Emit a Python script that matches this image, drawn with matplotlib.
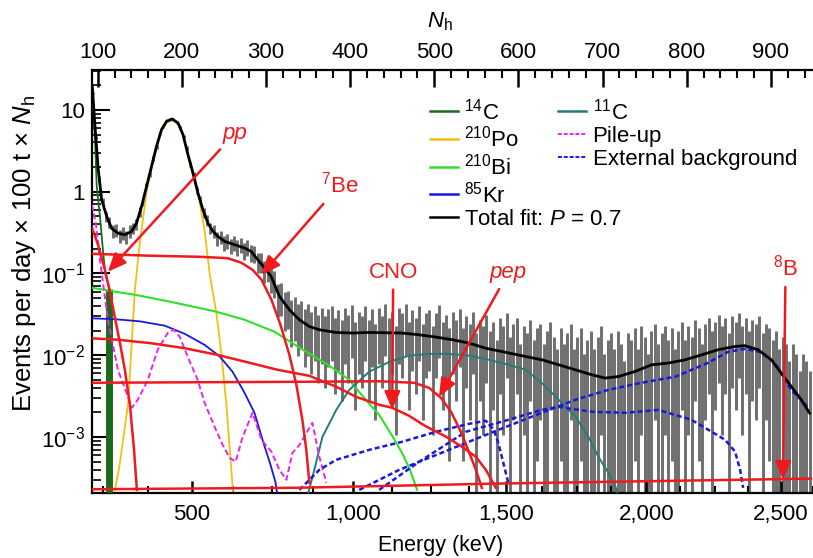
import numpy as np
import matplotlib
matplotlib.use('Agg')
import matplotlib.pyplot as plt
from matplotlib.lines import Line2D
from matplotlib.ticker import LogLocator, MultipleLocator, NullFormatter

plt.rcParams['font.family'] = ['Liberation Sans', 'DejaVu Sans']
plt.rcParams['mathtext.fontset'] = 'custom'
plt.rcParams['mathtext.rm'] = 'Liberation Sans'
plt.rcParams['mathtext.it'] = 'Liberation Sans:italic'
plt.rcParams['mathtext.bf'] = 'Liberation Sans:bold'

# energy scale: visible energy (keV) -> number of hit PMTs
energy_cal = [250, 375, 500, 625, 750, 875, 1000, 1125, 1250, 1375, 1500,
              1625, 1750, 1875, 2000, 2125, 2250, 2375, 2500, 2625]
nh_cal = [106.3, 159.6, 211.7, 260.3, 307.7, 356.3, 403.7, 450.2, 496.1,
          541.1, 585.0, 627.6, 669.0, 710.5, 752.0, 792.3, 833.8, 872.9,
          911.9, 950.0]
energy_major = [500, 1000, 1500, 2000, 2500]
energy_labels = ['500', '1,000', '1,500', '2,000', '2,500']
nh_major = [100, 200, 300, 400, 500, 600, 700, 800, 900]
ytick_values = [1e-3, 1e-2, 1e-1, 1, 10]
ytick_labels = ['10$^{-3}$', '10$^{-2}$', '10$^{-1}$', '1', '10']

# measured spectrum, 4-Nh bins starting at Nh = 94
data_rate = [
    16, 4.6, 1.45, 0.75, 0.5, 0.43, 0.33, 0.34, 0.29, 0.31,
    0.28, 0.33, 0.36, 0.40, 0.57, 0.76, 1.18, 1.66, 2.55, 3.5,
    5.1, 6.2, 7.4, 7.6, 7.8, 7.0, 6.2, 4.7, 3.4, 2.15,
    1.6, 1.05, 0.80, 0.55, 0.45, 0.36, 0.33, 0.27, 0.28, 0.24,
    0.25, 0.22, 0.24, 0.21, 0.225, 0.19, 0.21, 0.18, 0.175, 0.14,
    0.14, 0.11, 0.112, 0.088, 0.078, 0.052, 0.053, 0.040, 0.041, 0.030,
    0.033, 0.026, 0.029, 0.022, 0.026, 0.020, 0.024, 0.018, 0.023, 0.017,
    0.022, 0.024, 0.016, 0.021, 0.015, 0.023, 0.018, 0.025, 0.014, 0.020,
    0.017, 0.024, 0.015, 0.022, 0.013, 0.023, 0.017, 0.026, 0.016, 0.020,
    0.012, 0.023, 0.019, 0.026, 0.014, 0.021, 0.016, 0.024, 0.013, 0.019,
    0.021, 0.012, 0.019, 0.025, 0.014, 0.018, 0.011, 0.020, 0.015, 0.022,
    0.011, 0.017, 0.013, 0.020, 0.009, 0.015, 0.012, 0.018, 0.010, 0.014,
    0.007, 0.016, 0.012, 0.019, 0.008, 0.013, 0.016, 0.006, 0.012, 0.009,
    0.015, 0.007, 0.011, 0.013, 0.006, 0.010, 0.014, 0.008, 0.005, 0.011,
    0.006, 0.009, 0.013, 0.005, 0.008, 0.011, 0.004, 0.007, 0.010, 0.005,
    0.008, 0.012, 0.004, 0.007, 0.009, 0.005, 0.010, 0.006, 0.003, 0.009,
    0.007, 0.011, 0.005, 0.012, 0.008, 0.004, 0.010, 0.013, 0.006, 0.009,
    0.012, 0.007, 0.011, 0.005, 0.010, 0.014, 0.007, 0.012, 0.008, 0.015,
    0.011, 0.006, 0.013, 0.016, 0.010, 0.014, 0.018, 0.012, 0.016, 0.009,
    0.017, 0.014, 0.019, 0.012, 0.016, 0.010, 0.015, 0.013, 0.017, 0.009,
    0.013, 0.011, 0.007, 0.010, 0.005, 0.008, 0.006, 0.003, 0.006, 0.004,
    0.002, 0.004, 0.003, 0.002,
]
exposure = 100.0  # counts per unit rate in one bin

fit_nh = [93.6, 96.8, 100.7, 104.7, 110.7, 116.6, 124.4, 132.3, 140.3, 146.2,
          152.1, 158.1, 164.0, 169.9, 175.8, 181.8, 188.4, 195.5, 201.4, 207.3,
          213.3, 219.2, 225.1, 231.0, 237.0, 242.9, 250.8, 262.7, 274.5, 282.5,
          290.3, 298.2, 306.2, 316.0, 327.8, 339.7, 351.5, 363.4, 383.2, 402.5,
          422.6, 461.7, 481.9, 501.7, 521.3, 541.1, 560.9, 580.6, 608.3, 628.0,
          647.7, 667.5, 687.2, 703.1, 718.8, 738.6, 758.3, 778.1, 797.9, 817.5,
          837.3, 857.1, 869.0, 884.7, 900.5, 912.3, 924.2, 936.0, 946.0]
fit_rate = [19.4, 6.3, 1.86, 0.80, 0.50, 0.356, 0.31, 0.298, 0.327, 0.414,
            0.66, 1.16, 2.04, 3.58, 5.73, 7.24, 7.75, 6.92, 4.98, 2.84,
            1.69, 0.96, 0.60, 0.414, 0.327, 0.284, 0.247, 0.225, 0.205, 0.186,
            0.147, 0.117, 0.092, 0.0524, 0.036, 0.0272, 0.0225, 0.0205, 0.019, 0.0187,
            0.019, 0.0187, 0.0178, 0.0167, 0.0155, 0.0141, 0.0122, 0.0111, 0.00966, 0.0088,
            0.00765, 0.00665, 0.00577, 0.00526, 0.0055, 0.00634, 0.00765, 0.00803, 0.0088, 0.0101,
            0.0117, 0.0128, 0.0131, 0.0117, 0.0088, 0.00605, 0.00415, 0.00286, 0.00196]

c14_nh = [93.2, 96.8, 98.8, 102.7, 106.5, 109.0, 114.0, 114.0]
c14_rate = [20, 4.5, 1.2, 0.5, 0.18, 0.1, 0.065, 1.5e-4]

po_nh = [120.5, 126.4, 136.2, 144.2, 150.1, 158.1, 164.0, 169.9, 175.8, 181.8,
         188.4, 195.5, 201.4, 207.3, 215.3, 221.2, 227.1, 233.0, 241.0, 246.9,
         252.8, 260.7]
po_rate = [2.2e-4, 4.8e-4, 2.6e-3, 0.063, 0.24, 1.0, 1.95, 3.45, 5.5, 7.0,
           7.55, 6.75, 4.85, 2.75, 1.3, 0.75, 0.33, 0.10, 0.033, 0.0107,
           2.6e-3, 2.2e-4]

bi_nh = [93.2, 116.9, 144.2, 183.3, 239.0, 274.5, 310.1, 339.7, 375.2, 398.9,
         416.7, 434.4, 449.9, 461.7, 471.2, 479.5]
bi_rate = [0.067, 0.0607, 0.055, 0.0458, 0.0345, 0.0272, 0.0194, 0.0124,
           0.00745, 0.0050, 0.0030, 0.00187, 0.00104, 6.4e-4, 3.97e-4, 2.26e-4]

kr_nh = [93.2, 120.5, 150.1, 179.7, 203.4, 227.1, 244.9, 260.3, 274.5, 286.3,
         297.0, 305.3, 311.3, 315.0]
kr_rate = [0.0283, 0.0276, 0.026, 0.023, 0.0183, 0.0134, 0.0097, 0.00628,
           0.00348, 0.00198, 8.5e-4, 4.6e-4, 2.8e-4, 1.5e-4]

c11_nh = [350.4, 357.5, 367.0, 383.5, 399.0, 422.7, 446.4, 470.0, 493.7, 517.4,
          541.1, 564.8, 588.5, 608.6, 627.6, 647.7, 667.9, 683.3, 695.1, 707.0,
          715.3, 717.7]
c11_rate = [2.1e-4, 4.0e-4, 1.0e-3, 2.15e-3, 3.78e-3, 6.3e-3, 8.3e-3, 9.9e-3,
            0.0104, 0.0104, 9.9e-3, 8.8e-3, 7.65e-3, 6.65e-3, 4.6e-3, 2.86e-3,
            1.77e-3, 1.0e-3, 5.7e-4, 3.65e-4, 2.46e-4, 2.08e-4]

pileup_nh = [93.2, 98.0, 102.7, 112.2, 124.0, 134.7, 140.6, 147.7, 159.6, 171.4,
             183.3, 190.4, 197.5, 207.0, 218.8, 227.1, 239.0, 247.3, 256.8, 263.9,
             272.2, 284.0, 294.7, 306.5, 316.0, 324.3, 331.4, 339.7, 355.1, 363.4,
             371.7]
pileup_rate = [0.693, 0.395, 0.147, 0.0272, 6.65e-3, 3.38e-3, 2.28e-3, 2.86e-3,
               5.0e-3, 0.0117, 0.0188, 0.0205, 0.0168, 9.6e-3, 5.0e-3, 2.62e-3,
               1.33e-3, 8.5e-4, 5.57e-4, 4.98e-4, 1.0e-3, 1.98e-3, 9.25e-4,
               6.6e-4, 3.97e-4, 3.0e-4, 6.4e-4, 8.0e-4, 1.49e-3, 5.73e-4, 2.76e-4]

k40_nh = [339.7, 363.4, 383.5, 422.7, 461.7, 502.0, 541.1, 561.3, 570.7, 576.7,
          582.6, 588.5]
k40_rate = [2.26e-4, 3.97e-4, 5.27e-4, 6.98e-4, 8.75e-4, 1.16e-3, 1.45e-3,
            1.58e-3, 1.23e-3, 8.0e-4, 4.57e-4, 2.6e-4]

bi214_nh = [434.5, 481.9, 537.5, 588.5, 627.6, 647.7, 686.8, 727.1, 766.2, 805.3,
            825.4, 845.6, 857.5, 863.4, 867.0]
bi214_rate = [2.26e-4, 4.98e-4, 1.16e-3, 1.63e-3, 2.15e-3, 2.34e-3, 2.04e-3,
              1.98e-3, 2.15e-3, 1.63e-3, 1.23e-3, 9.25e-4, 6.6e-4, 3.97e-4, 2.39e-4]

tl208_nh = [410.8, 458.2, 517.4, 576.7, 627.6, 667.9, 707.0, 746.1, 786.3, 825.4,
            849.1, 869.3, 887.0, 904.8, 923.8, 944.0]
tl208_rate = [2.26e-4, 3.97e-4, 6.98e-4, 1.23e-3, 1.98e-3, 2.86e-3, 3.78e-3,
              4.61e-3, 5.46e-3, 8.1e-3, 0.011, 0.012, 0.011, 8.1e-3, 3.78e-3, 2.34e-3]

pp_nh = [93.2, 100.4, 108.6, 114.5, 120.5, 126.4, 132.3, 138.3, 143.0, 146.6]
pp_rate = [0.363, 0.225, 0.111, 0.0598, 0.0288, 0.0142, 0.00665, 2.48e-3,
           7.4e-4, 2.26e-4]

be7_nh = [93.2, 162.0, 221.2, 254.4, 271.0, 284.0, 294.7, 306.5, 317.2, 327.8,
          336.1, 343.2, 347.9, 351.5]
be7_rate = [0.174, 0.165, 0.160, 0.154, 0.135, 0.111, 0.0839, 0.0477, 0.0236,
            0.0101, 4.36e-3, 1.63e-3, 7.0e-4, 2.76e-4]

pep_nh = [93.2, 221.2, 339.7, 434.5, 476.0, 493.7, 507.9, 519.8, 531.6, 541.1,
          549.4, 556.5]
pep_rate = [4.61e-3, 4.68e-3, 4.74e-3, 4.81e-3, 4.61e-3, 4.0e-3, 3.02e-3,
            2.04e-3, 1.16e-3, 6.6e-4, 3.97e-4, 2.39e-4]

cno_nh = [93.2, 124.0, 164.3, 203.4, 242.5, 282.8, 313.6, 351.5, 383.5, 407.2,
          434.5, 450.0, 470.0, 489.0, 513.9, 532.9, 549.4, 561.3, 573.2]
cno_rate = [0.0161, 0.0155, 0.014, 0.0122, 0.0101, 7.98e-3, 6.65e-3, 5.61e-3,
            4.12e-3, 3.1e-3, 2.48e-3, 2.28e-3, 1.82e-3, 1.37e-3, 1.01e-3,
            7.6e-4, 5.73e-4, 3.97e-4, 2.39e-4]

b8_nh = [93.2, 339.7, 576.7, 813.6, 947.5]
b8_rate = [2.3e-4, 2.4e-4, 2.7e-4, 2.95e-4, 3.1e-4]

RED = '#f01a1e'
BLUE = '#1818e0'
FONT = 16


def _style_axes(ax):
  ax.set_yscale('log')
  ax.set_xlim(92.9, 947.5)
  ax.set_ylim(2.07e-4, 30.8)

  ax.set_yticks(ytick_values)
  ax.set_yticklabels(ytick_labels)
  ax.yaxis.set_minor_locator(LogLocator(base=10, subs=np.arange(2, 10)))
  ax.yaxis.set_minor_formatter(NullFormatter())
  ax.tick_params(axis='y', which='major', direction='in', length=13,
                 width=1.5, labelsize=FONT, pad=5)
  ax.tick_params(axis='y', which='minor', direction='in', length=6.5,
                 width=1.2)

  # bottom axis in energy, drawn on the hit-PMT scale
  ax.set_xticks(np.interp(energy_major, energy_cal, nh_cal))
  ax.set_xticklabels(energy_labels)
  ax.set_xticks(np.interp(energy_cal, energy_cal, nh_cal), minor=True)
  ax.tick_params(axis='x', which='major', direction='in', length=9,
                 width=1.8, labelsize=FONT, pad=8)
  ax.tick_params(axis='x', which='minor', direction='in', length=5,
                 width=1.5)

  ax.spines['right'].set_visible(False)
  ax.spines['top'].set_visible(False)
  for side in ('left', 'bottom'):
    ax.spines[side].set_linewidth(1.6)

  top = ax.secondary_xaxis('top')
  top.set_xticks(nh_major)
  top.xaxis.set_minor_locator(MultipleLocator(20))
  top.tick_params(axis='x', which='major', direction='in', length=12,
                  width=1.8, labelsize=FONT, pad=5)
  top.tick_params(axis='x', which='minor', direction='in', length=6,
                  width=1.5)
  top.spines['top'].set_linewidth(1.6)

  ax.set_xlabel('Energy (keV)', fontsize=15.5)
  ax.xaxis.set_label_coords(0.484, -0.1)
  ax.set_ylabel('Events per day \u00d7 100 t \u00d7 $N_\\mathrm{h}$',
                fontsize=18.5)
  ax.yaxis.set_label_coords(-0.0745, 0.567)


def plot_spectrum(filename='out.png'):
  fig = plt.figure(figsize=(8.13, 5.58), dpi=100)
  ax = fig.add_axes([0.1128, 0.1165, 0.8872, 0.7581])
  _style_axes(ax)

  rate = np.asarray(data_rate)
  nh_bins = 94 + 4 * np.arange(len(rate))
  err = np.sqrt(rate * exposure) / exposure
  lo = np.clip(rate - err, 1e-4, None)
  ax.vlines(nh_bins, lo, rate + err, colors='#6e6e6e', lw=2.1, zorder=1)

  ax.plot(c14_nh[:-1], c14_rate[:-1], color='#1c6b1c', lw=1.3, zorder=3)
  ax.plot(c14_nh[-2:], c14_rate[-2:], color='#1c6b1c', lw=5, zorder=3,
          solid_capstyle='butt')
  ax.plot(po_nh, po_rate, color='#f2c012', lw=1.3, zorder=3)
  ax.plot(bi_nh, bi_rate, color='#2ee02a', lw=1.5, zorder=3)
  ax.plot(kr_nh, kr_rate, color=BLUE, lw=1.3, zorder=3)
  ax.plot(c11_nh, c11_rate, color='#237c78', lw=1.4, zorder=3)
  ax.plot(pileup_nh, pileup_rate, color='#ee22ee', lw=1.4,
          ls=(0, (3, 1.6)), zorder=3)
  for nh, r in ((k40_nh, k40_rate), (bi214_nh, bi214_rate),
                (tl208_nh, tl208_rate)):
    ax.plot(nh, r, color=BLUE, lw=1.8, ls=(0, (2, 1.2)), zorder=3)

  ax.plot(fit_nh, fit_rate, color='black', lw=2.0, zorder=4)

  for nh, r in ((pp_nh, pp_rate), (be7_nh, be7_rate), (pep_nh, pep_rate),
                (cno_nh, cno_rate), (b8_nh, b8_rate)):
    ax.plot(nh, r, color=RED, lw=1.8, zorder=5)

  # arrows from the solar-neutrino labels to their spectra
  notes = [
      ('pp', 'italic', (0.199, 0.851), (112, 0.105)),
      ('$^{7}$Be', 'normal', (0.344, 0.728), (294.7, 0.0966)),
      ('CNO', 'normal', (0.418, 0.522), (450, 2.15e-3)),
      ('pep', 'italic', (0.578, 0.522), (505.6, 3.1e-3)),
      ('$^{8}$B', 'normal', (0.962, 0.534), (914.3, 3.0e-4)),
  ]
  for text, style, xytext, xy in notes:
    ax.annotate(text, xy=xy, xycoords='data', xytext=xytext,
                textcoords='axes fraction', ha='center', va='center',
                color=RED, fontsize=FONT, fontstyle=style, zorder=6,
                arrowprops=dict(arrowstyle='-|>,head_length=0.7,head_width=0.3',
                                color=RED, lw=1.8, shrinkA=3, shrinkB=0))

  def handle(color, ls='-', lw=1.8):
    return Line2D([], [], color=color, ls=ls, lw=lw)

  leg_kw = dict(loc='upper left', frameon=False, fontsize=FONT,
                handlelength=1.25, handletextpad=0.3, labelspacing=0.08,
                borderpad=0, borderaxespad=0)
  first = ax.legend(
      [handle('#1c6b1c'), handle('#f2c012'), handle('#2ee02a'),
       handle(BLUE), handle('black')],
      ['$^{14}$C', '$^{210}$Po', '$^{210}$Bi', '$^{85}$Kr',
       'Total fit: $P$ = 0.7'],
      bbox_to_anchor=(0.469, 0.933), **leg_kw)
  ax.add_artist(first)
  ax.legend(
      [handle('#237c78'), handle('#ee22ee', (0, (2, 1)), 1.4),
       handle(BLUE, (0, (2, 1)), 1.4)],
      ['$^{11}$C', 'Pile-up', 'External background'],
      bbox_to_anchor=(0.6466, 0.933), **leg_kw)

  fig.text(0.541, 0.962, '$N_\\mathrm{h}$', ha='center', va='center',
           fontsize=FONT)

  fig.savefig(filename, dpi=100)
  plt.close(fig)


if __name__ == '__main__':
  plot_spectrum()
